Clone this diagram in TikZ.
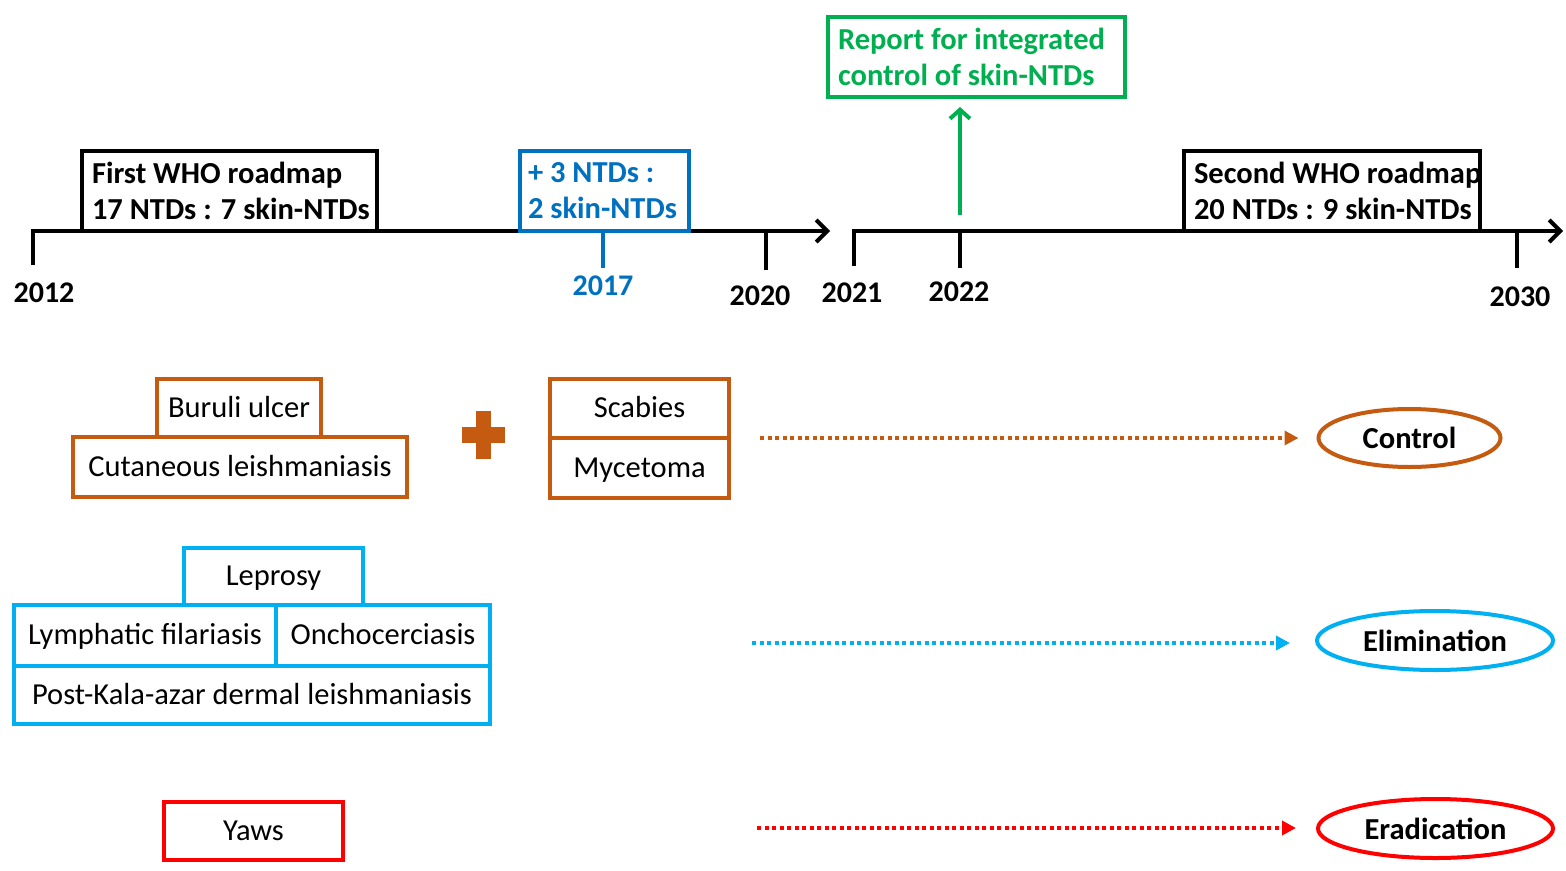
\documentclass[tikz,border=0pt]{standalone}
\usepackage{fontspec}
\setmainfont{Carlito}
\usetikzlibrary{arrows.meta,shapes.geometric}
\definecolor{ctrlorange}{HTML}{C55A11}
\definecolor{elimblue}{HTML}{00B0F0}
\definecolor{midblue}{HTML}{0070C0}
\definecolor{repgreen}{HTML}{00B050}
\definecolor{eradred}{HTML}{FF0000}
\begin{document}
\begin{tikzpicture}[x=1pt,y=-1pt,
  roadbox/.style={draw, fill=white, line width=4pt, inner xsep=10pt, inner ysep=0pt, minimum height=80pt,
    anchor=north west, align=flush left, font=\bfseries\fontsize{30.5}{36}\selectfont},
  disbox/.style={draw=#1, fill=white, line width=4pt, inner sep=0pt, text height=22pt, text depth=4pt,
    font=\fontsize{30.5}{34}\selectfont},
  goal/.style={ellipse, draw=#1, line width=4pt, inner sep=0pt, font=\bfseries\fontsize{30.5}{34}\selectfont},
  year/.style={font=\bfseries\fontsize{30}{34}\selectfont},
  axis/.style={line width=4pt, -{Straight Barb[length=11pt,width=22pt,line width=4pt]}},
  goalarrow/.style={line width=4pt, dash pattern=on 4pt off 3.5pt, -{Triangle[length=14pt,width=14pt,sep=0pt]}}
]
\useasboundingbox (0,0) rectangle (1566,870);

% time lines
\coordinate (t2012) at (33,231);
\coordinate (t2017) at (603,231);
\coordinate (t2020) at (766,231);
\coordinate (end1) at (830,231);
\coordinate (t2021) at (854,231);
\coordinate (t2022) at (960,231);
\coordinate (t2030) at (1517,231);
\coordinate (end2) at (1563,231);

\draw[axis] ([shift={(0,34)}]t2012) -- (t2012) -- (end1);
\draw[axis] ([shift={(0,35)}]t2021) -- (t2021) -- (end2);
\draw[line width=4pt] (t2020) -- ++(0,39);
\draw[line width=4pt] (t2022) -- ++(0,37);
\draw[line width=4pt] (t2030) -- ++(0,37);
\draw[line width=4pt, midblue] (t2017) -- ++(0,37);

\node[year] (y2012) at (44,293) {2012};
\node[year, midblue] (y2017) at (603,286) {2017};
\node[year] (y2020) at (760,296) {2020};
\node[year] (y2021) at (852,293) {2021};
\node[year] (y2022) at (959,292) {2022};
\node[year] (y2030) at (1520,297) {2030};

\node[roadbox, text width=275pt] (first) at (80,149) {First WHO roadmap\\\mbox{17 NTDs : 7 skin-NTDs}};
\node[roadbox, draw=midblue, text=midblue, inner xsep=8pt, text width=153pt] (plus3) at (518,149) {\textbf{+} 3 NTDs :\\\mbox{2 skin-NTDs}};
\node[roadbox, text width=276pt] (second) at (1182,149) {\mbox{Second WHO roadmap}\\\mbox{20 NTDs : 9 skin-NTDs}};
\node[roadbox, draw=repgreen, text=repgreen, text width=277pt] (report) at (826,15) {Report for integrated\\\mbox{control of skin-NTDs}};

\coordinate (repstart) at (960,215);
\draw[line width=4pt, repgreen, -{Straight Barb[length=9pt,width=20pt,line width=4pt]}, shorten >=8pt]
  (repstart) -- (report.south -| repstart);

% control
\node[disbox=ctrlorange, minimum width=164pt, minimum height=58pt] (buruli) at (239,408) {Buruli ulcer};
\node[disbox=ctrlorange, minimum width=334pt, minimum height=60pt] (cutan) at (240,467) {Cutaneous leishmaniasis};
\fill[ctrlorange] (476,411) rectangle (491,459);
\fill[ctrlorange] (462,427) rectangle (505,443);
\node[disbox=ctrlorange, minimum width=179pt, minimum height=59pt] (scabies) at (639.5,408.5) {Scabies};
\node[disbox=ctrlorange, minimum width=179pt, minimum height=60pt] (myceto) at (639.5,468) {Mycetoma};
\node[goal=ctrlorange, minimum width=182pt, minimum height=58pt] (control) at (1409.5,438) {Control};
\coordinate (ctrlstart) at (760,438);
\draw[goalarrow, ctrlorange, shorten >=18pt] (ctrlstart) -- (ctrlstart -| control.west);

% elimination
\node[disbox=elimblue, minimum width=179pt, minimum height=57pt] (leprosy) at (273.5,576.5) {Leprosy};
\node[disbox=elimblue, minimum width=262pt, minimum height=61pt] (lymph) at (145,635.5) {Lymphatic filariasis};
\node[disbox=elimblue, minimum width=214pt, minimum height=61pt] (oncho) at (383,635.5) {Onchocerciasis};
\node[disbox=elimblue, minimum width=476pt, minimum height=58pt] (pkdl) at (252,695) {Post-Kala-azar dermal leishmaniasis};
\node[goal=elimblue, minimum width=236pt, minimum height=59pt] (elim) at (1435,640.5) {Elimination};
\coordinate (elimstart) at (752,643);
\draw[goalarrow, elimblue, shorten >=25pt] (elimstart) -- (elimstart -| elim.west);

% eradication
\node[disbox=eradred, minimum width=179pt, minimum height=58pt] (yaws) at (253.5,831) {Yaws};
\node[goal=eradred, minimum width=235pt, minimum height=59pt] (erad) at (1435.5,828.5) {Eradication};
\coordinate (eradstart) at (757,828);
\draw[goalarrow, eradred, shorten >=20pt] (eradstart) -- (eradstart -| erad.west);
\end{tikzpicture}
\end{document}
